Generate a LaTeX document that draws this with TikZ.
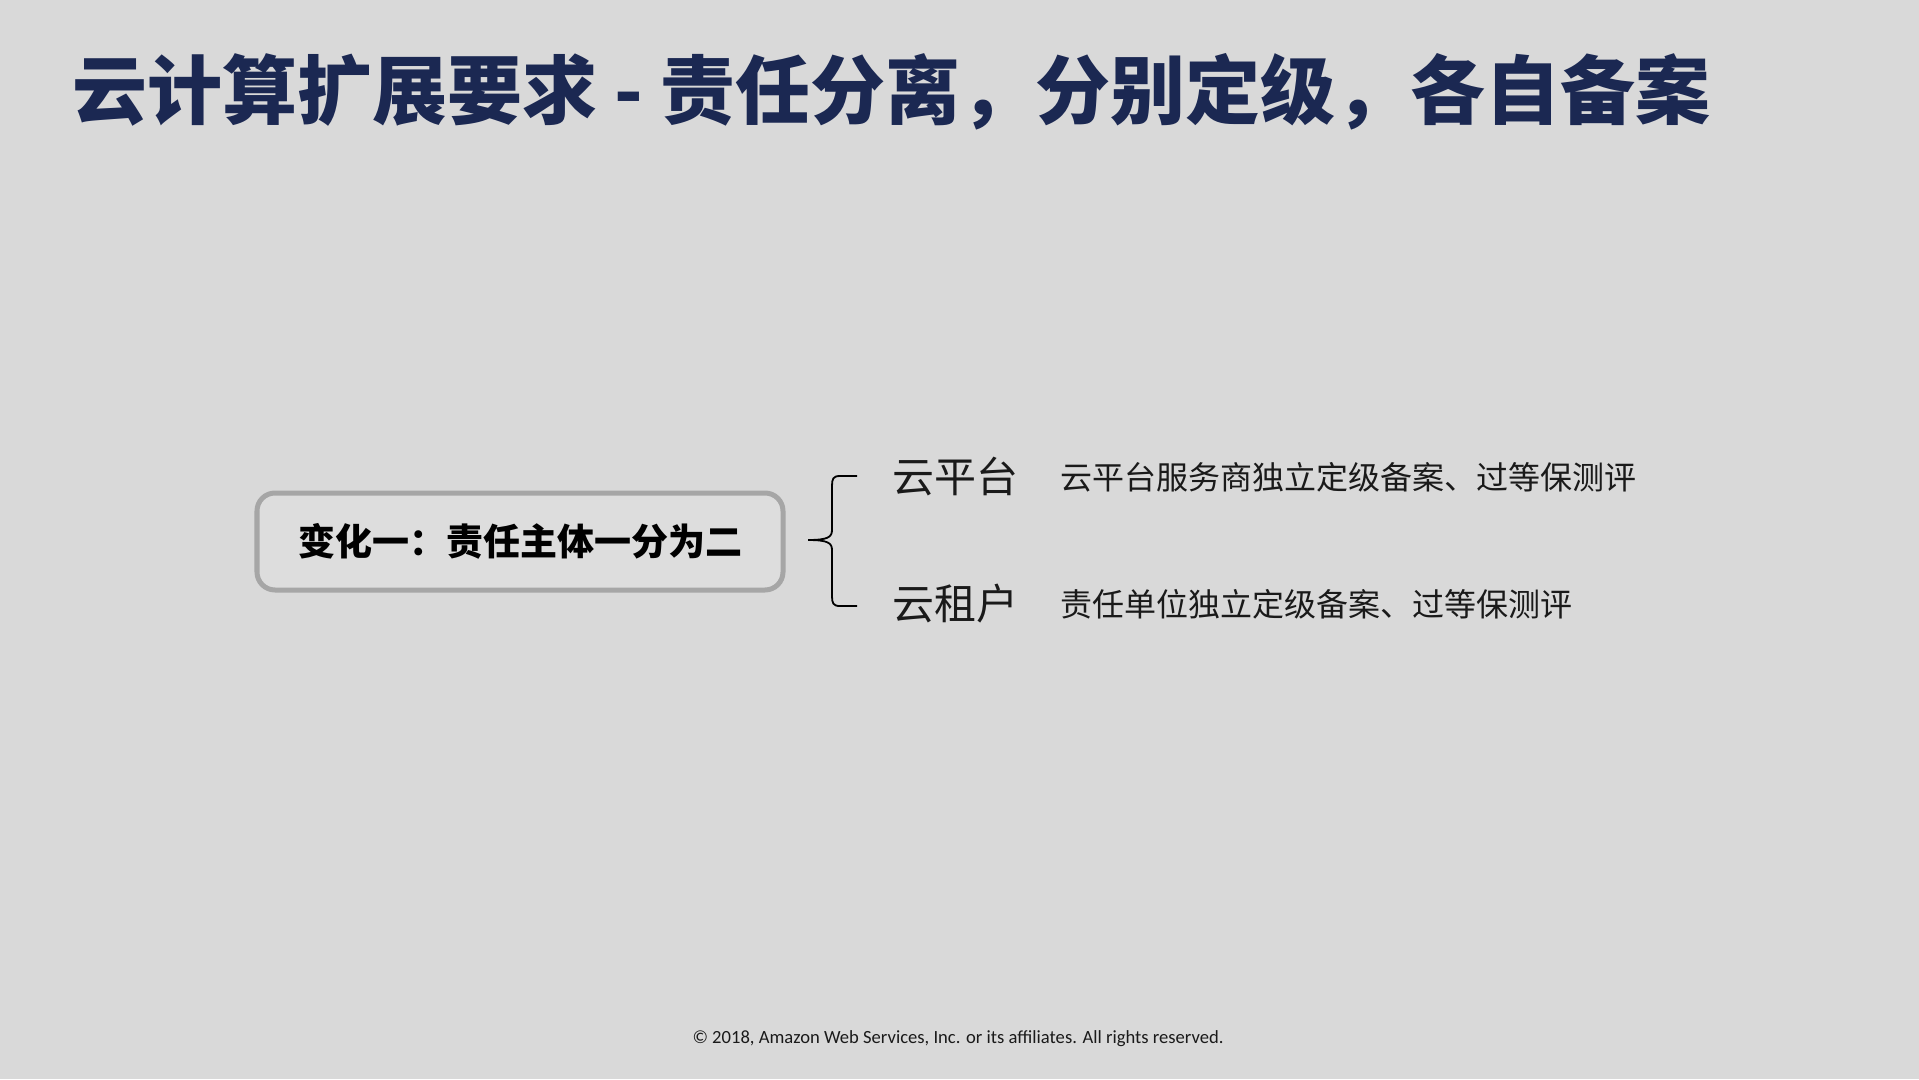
\documentclass[tikz,border=0pt]{standalone}
\usepackage{fontspec}
\setmainfont{Carlito}
\newfontfamily\cjk{Noto Sans CJK SC}
\definecolor{bgc}{HTML}{D9D9D9}
\definecolor{navy}{HTML}{1B2852}
\definecolor{boxline}{HTML}{A6A6A6}
\definecolor{boxfill}{HTML}{DDDDDD}
\definecolor{ink}{HTML}{1A1A1A}
\tikzset{
  titletext/.style={anchor=west, inner sep=0pt, text=navy, font=\cjk\bfseries\fontsize{75bp}{80bp}\selectfont},
  mainbox/.style={draw=boxline, line width=5bp, fill=boxfill, rounded corners=18bp, minimum width=526bp, minimum height=97bp, inner sep=0pt, font=\cjk\bfseries\fontsize{37bp}{40bp}\selectfont, text=black},
  headtext/.style={anchor=west, inner sep=0pt, text=ink, font=\cjk\fontsize{42bp}{46bp}\selectfont},
  desctext/.style={anchor=west, inner sep=0pt, text=ink, font=\cjk\fontsize{32bp}{35bp}\selectfont},
  foot/.style={inner sep=0pt, text=ink, font=\fontsize{18.6bp}{20bp}\selectfont},
  bracestyle/.style={draw=black, line width=1.8bp}
}
\begin{document}
\begin{tikzpicture}[x=1bp,y=-1bp]
\fill[bgc] (0,0) rectangle (1919,1079);
\useasboundingbox (0,0) rectangle (1919,1079);
\node[titletext] (title) at (72,92) {云计算扩展要求 - 责任分离，分别定级，各自备案};
\node[mainbox] (box) at (520,541.5) {变化一：责任主体一分为二};
\coordinate (btop) at (857,476);
\coordinate (bbot) at (857,606);
\coordinate (btip) at (808,540);
\draw[bracestyle] (btop) -- (840,476) .. controls (833,476) and (832,479) .. (832,486)
  -- (832,530) .. controls (832,537) and (828,540) .. (btip)
  .. controls (828,540) and (832,543) .. (832,550)
  -- (832,596) .. controls (832,603) and (833,606) .. (840,606) -- (bbot);
\node[headtext] (p1) at (892,477) {云平台};
\node[headtext] (p2) at (892,604) {云租户};
\node[desctext] (d1) at (1060,477) {云平台服务商独立定级备案、过等保测评};
\node[desctext] (d2) at (1060,604) {责任单位独立定级备案、过等保测评};
\node[foot] (ft) at (958,1039) {© 2018, Amazon Web Services, Inc. or its affiliates. All rights reserved.};
\end{tikzpicture}
\end{document}
